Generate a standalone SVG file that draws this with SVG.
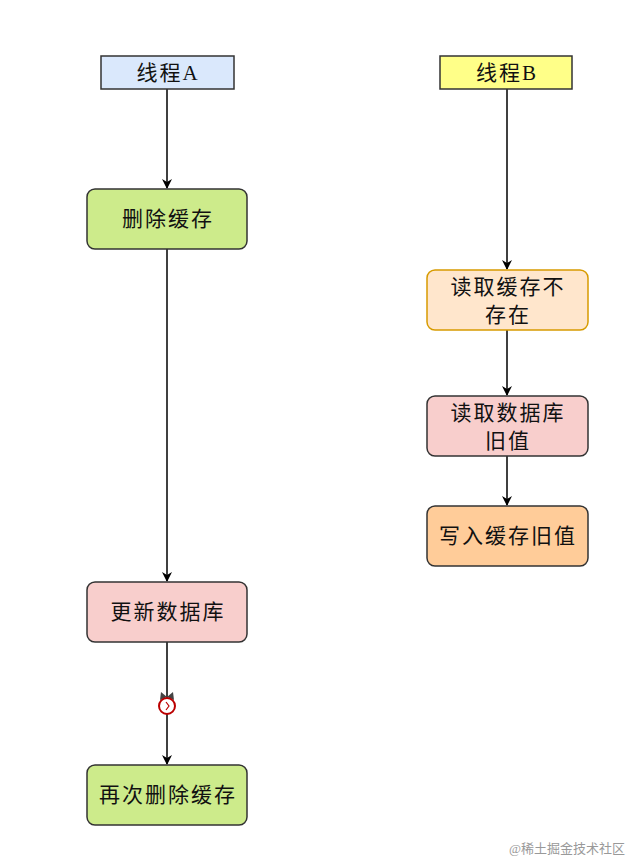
<svg xmlns="http://www.w3.org/2000/svg" width="643" height="868" viewBox="0 0 643 868">
<defs>
<marker id="ah" markerWidth="10" markerHeight="10" refX="9" refY="5" orient="auto" markerUnits="userSpaceOnUse"><path d="M0,0 L10,5 L0,10 L3,5 Z" fill="#000"/></marker>
<style>
text{font-family:"Liberation Serif","Noto Sans CJK SC",serif;font-size:21px;letter-spacing:2px;text-anchor:middle;fill:#111}
.n{stroke:#333;stroke-width:1.5}
.c{stroke:#000;stroke-width:1.5;fill:none;marker-end:url(#ah)}
</style>
</defs>
<rect width="643" height="868" fill="#fff"/>
<g id="connectors">
<path class="c" d="M167,89 V188"/>
<path class="c" d="M167,249 V581"/>
<path class="c" d="M167,642 V764"/>
<path class="c" d="M507,89 V269"/>
<path class="c" d="M507,330 V395"/>
<path class="c" d="M507,456 V505"/>
</g>
<g id="clock">
<path d="M160,700 L161,692 L167,697 Z M174,700 L173,692 L167,697 Z" fill="#444"/>
<circle cx="167" cy="706" r="8" fill="#fff" stroke="#b00" stroke-width="2"/>
<path d="M166,702 L169,706 L166,710" stroke="#b00" stroke-width="1.2" fill="none"/>
</g>
<g id="threadA"><rect class="n" x="101" y="56" width="133" height="33" fill="#dae8fc"/><text x="168" y="80">线程A</text></g>
<g id="threadB"><rect class="n" x="440" y="56" width="132" height="33" fill="#ffff88"/><text x="507" y="80">线程B</text></g>
<g id="del1"><rect class="n" x="87" y="189" width="160" height="60" rx="8" fill="#cdeb8b"/><text x="168" y="226">删除缓存</text></g>
<g id="upd"><rect class="n" x="87" y="582" width="160" height="60" rx="8" fill="#f8cecc"/><text x="168" y="619">更新数据库</text></g>
<g id="del2"><rect class="n" x="87" y="765" width="160" height="60" rx="8" fill="#cdeb8b"/><text x="168" y="802">再次删除缓存</text></g>
<g id="read"><rect x="427" y="270" width="161" height="60" rx="8" fill="#ffe6cc" stroke="#d79b00" stroke-width="1.5"/><text x="508" y="294">读取缓存不</text><text x="508" y="322">存在</text></g>
<g id="readdb"><rect class="n" x="427" y="396" width="161" height="60" rx="8" fill="#f8cecc"/><text x="508" y="420">读取数据库</text><text x="508" y="448">旧值</text></g>
<g id="write"><rect class="n" x="427" y="506" width="161" height="60" rx="8" fill="#ffcc99"/><text x="508" y="543">写入缓存旧值</text></g>
<text x="567" y="853" style="font-size:13px;letter-spacing:0;fill:#999">@稀土掘金技术社区</text>
</svg>
